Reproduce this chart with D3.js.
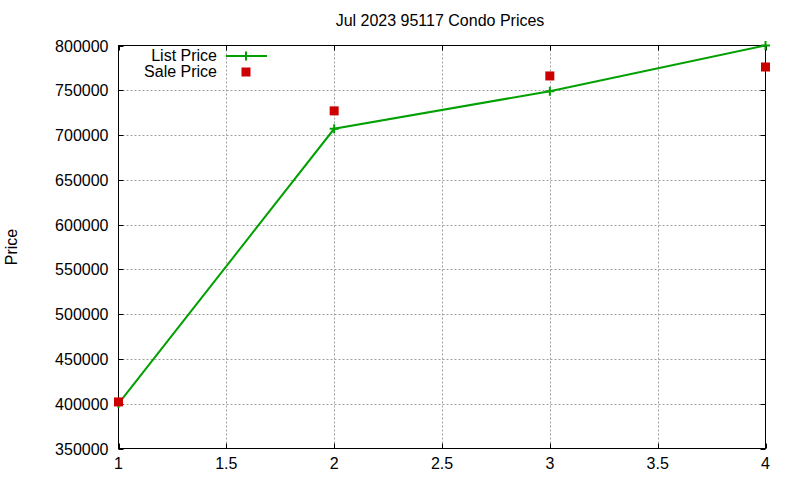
<!DOCTYPE html>
<html>
<head>
<meta charset="utf-8">
<script src="https://cdn.jsdelivr.net/npm/d3@7"></script>
<style>
  body { margin: 0; background: #fff; }
  text { font-family: "Liberation Sans", Arial, sans-serif; font-size: 16px; fill: #000; }
</style>
</head>
<body>
<div id="chart"></div>
<script>
const TITLE = 'Jul 2023 95117 Condo Prices';
const X_VALUES = [1, 2, 3, 4];
const LIST_PRICE = [400000, 707000, 749000, 800000];
const SALE_PRICE = [402000, 727000, 766000, 776000];
const X_TICKS = [1, 1.5, 2, 2.5, 3, 3.5, 4];
const Y_TICKS = [350000, 400000, 450000, 500000, 550000, 600000, 650000, 700000, 750000, 800000];

const WIDTH = 800, HEIGHT = 480;
const LEFT = 118.5, RIGHT = 765.5, TOP = 45.5, BOTTOM = 448.5;
const TIC = 5;
const GREEN = '#00a000', RED = '#cc0000', GRID = '#a0a0a0';

const svg = d3.select('#chart').append('svg')
  .attr('width', WIDTH).attr('height', HEIGHT);

const x = d3.scaleLinear().domain([1, 4]).range([LEFT, RIGHT]);
const y = d3.scaleLinear().domain([350000, 800000]).range([BOTTOM, TOP]);

// grid (dotted, gnuplot style)
const grid = svg.append('g');
grid.selectAll('.gx').data(X_TICKS.slice(1, -1)).enter().append('line')
  .attr('x1', d => Math.round(x(d)) + 0.5).attr('x2', d => Math.round(x(d)) + 0.5)
  .attr('y1', TOP).attr('y2', BOTTOM)
  .attr('stroke', GRID).attr('stroke-dasharray', '2,2');
grid.selectAll('.gy').data(Y_TICKS.slice(1, -1)).enter().append('line')
  .attr('y1', d => Math.round(y(d)) + 0.5).attr('y2', d => Math.round(y(d)) + 0.5)
  .attr('x1', LEFT).attr('x2', RIGHT)
  .attr('stroke', GRID).attr('stroke-dasharray', '2,2');

// tics, inward and mirrored
const tics = svg.append('g').attr('stroke', '#000');
Y_TICKS.forEach(v => {
  const py = Math.round(y(v)) + 0.5;
  tics.append('line').attr('x1', LEFT).attr('x2', LEFT + TIC).attr('y1', py).attr('y2', py);
  tics.append('line').attr('x1', RIGHT - TIC).attr('x2', RIGHT).attr('y1', py).attr('y2', py);
});
X_TICKS.forEach(v => {
  const px = Math.round(x(v)) + 0.5;
  tics.append('line').attr('x1', px).attr('x2', px).attr('y1', BOTTOM).attr('y2', BOTTOM - TIC);
  tics.append('line').attr('x1', px).attr('x2', px).attr('y1', TOP).attr('y2', TOP + TIC);
});

// border
svg.append('rect')
  .attr('x', LEFT).attr('y', TOP)
  .attr('width', RIGHT - LEFT).attr('height', BOTTOM - TOP)
  .attr('fill', 'none').attr('stroke', '#000');

// tick labels
svg.append('g').selectAll('text').data(Y_TICKS).enter().append('text')
  .attr('x', LEFT - 10).attr('y', d => y(d) + 6)
  .attr('text-anchor', 'end')
  .text(d => d);
svg.append('g').selectAll('text').data(X_TICKS).enter().append('text')
  .attr('x', d => x(d)).attr('y', BOTTOM + 20)
  .attr('text-anchor', 'middle')
  .text(d => d);

// titles
svg.append('text').attr('x', 440).attr('y', 26).attr('text-anchor', 'middle').text(TITLE);
svg.append('text')
  .attr('transform', 'translate(17,' + ((TOP + BOTTOM) / 2) + ') rotate(-90)')
  .attr('text-anchor', 'middle').text('Price');

// list price line + plus markers
const listData = X_VALUES.map((d, i) => [d, LIST_PRICE[i]]);
svg.append('path').datum(listData)
  .attr('d', d3.line().x(d => x(d[0])).y(d => y(d[1])))
  .attr('fill', 'none').attr('stroke', GREEN).attr('stroke-width', 2);

function plus(g, cx, cy) {
  g.append('path')
    .attr('d', `M${cx - 4.5},${cy}H${cx + 4.5}M${cx},${cy - 4.5}V${cy + 4.5}`)
    .attr('stroke', GREEN).attr('stroke-width', 2);
}
const pts = svg.append('g');
listData.forEach(d => plus(pts, x(d[0]), y(d[1])));

// sale price squares
svg.append('g').selectAll('rect').data(SALE_PRICE).enter().append('rect')
  .attr('x', (d, i) => x(X_VALUES[i]) - 4.5)
  .attr('y', d => y(d) - 4.5)
  .attr('width', 9).attr('height', 9)
  .attr('fill', RED);

// legend
const legend = svg.append('g');
legend.append('text').attr('x', 217).attr('y', 61).attr('text-anchor', 'end').text('List Price');
legend.append('text').attr('x', 217).attr('y', 77).attr('text-anchor', 'end').text('Sale Price');
legend.append('line').attr('x1', 226).attr('x2', 267).attr('y1', 56).attr('y2', 56)
  .attr('stroke', GREEN).attr('stroke-width', 2);
plus(legend, 246, 56);
legend.append('rect').attr('x', 241.5).attr('y', 67.5).attr('width', 9).attr('height', 9).attr('fill', RED);
</script>
</body>
</html>
